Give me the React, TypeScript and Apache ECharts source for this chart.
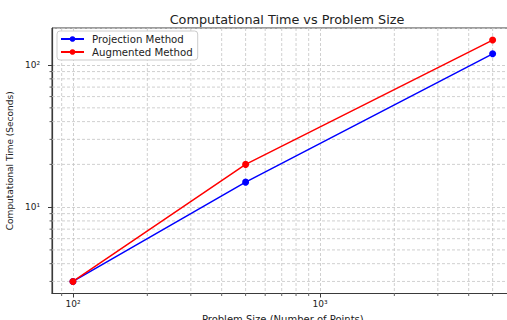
import React, { useEffect, useRef } from 'react';
import * as echarts from 'echarts';

const problemSizes = [100, 500, 5000];
const projectionTimes = [3, 15, 120];
const augmentedTimes = [3, 20, 150];
const xMinorTicks = [90, 200, 300, 400, 500, 600, 700, 800, 900, 2000, 3000, 4000, 5000];
const yMinorTicks = [3, 4, 5, 6, 7, 8, 9, 20, 30, 40, 50, 60, 70, 80, 90];
const xRange = [82.25, 6079];
const yRange = [2.4668, 182.4];
const superscripts: Record<number, string> = { 0: '⁰', 1: '¹', 2: '²', 3: '³', 4: '⁴' };

const FONT = 'DejaVu Sans';
const GRID_COLOR = '#c4c4c4';
const AXIS_COLOR = '#3a3a3a';

function powerLabel(v: number): string {
  const l = Math.log10(v);
  const e = Math.round(l);
  if (Math.abs(l - e) > 1e-6) return '';
  return '10' + (superscripts[e] ?? String(e));
}

export default function App() {
  const ref = useRef<HTMLDivElement>(null);
  useEffect(() => {
    if (!ref.current) return;
    const chart = echarts.init(ref.current, undefined, { renderer: 'svg' });
    const minorData = [
      ...xMinorTicks.map((v) => [v, 10, 0]),
      ...yMinorTicks.map((v) => [100, v, 1]),
    ];
    chart.setOption({
      animation: false,
      backgroundColor: '#fff',
      textStyle: { fontFamily: FONT },
      title: {
        text: 'Computational Time vs Problem Size',
        left: 282,
        textAlign: 'center',
        top: 8,
        textStyle: { fontFamily: FONT, fontSize: 12.8, fontWeight: 'normal', color: '#222' },
      },
      grid: {
        left: 52,
        top: 28,
        bottom: 26.5,
        right: -6.6,
        outerBoundsMode: 'none',
        containLabel: false,
        show: true,
        borderColor: AXIS_COLOR,
        borderWidth: 1,
        backgroundColor: 'transparent',
      },
      legend: {
        left: 57,
        top: 31,
        orient: 'vertical',
        itemWidth: 23,
        itemHeight: 7,
        itemGap: 3,
        data: ['Projection Method', 'Augmented Method'],
        textStyle: { fontFamily: FONT, fontSize: 10.2, color: '#222', padding: [0, 0, 0, 3] },
        backgroundColor: '#fff',
        borderColor: '#cccccc',
        borderWidth: 1,
        borderRadius: 3,
        padding: [3, 5, 3, 3],
      },
      xAxis: {
        type: 'log',
        logBase: 10,
        min: xRange[0],
        max: xRange[1],
        name: 'Problem Size (Number of Points)',
        nameLocation: 'middle',
        nameGap: 21,
        nameTextStyle: { fontFamily: FONT, fontSize: 10, color: '#222' },
        axisLine: { lineStyle: { color: AXIS_COLOR, width: 1.2 } },
        axisTick: { length: 4, lineStyle: { color: AXIS_COLOR, width: 1 } },
        axisLabel: {
          margin: 6,
          fontFamily: FONT,
          fontSize: 9,
          color: '#222',
          formatter: (v: number) => powerLabel(v),
          showMinLabel: false,
          showMaxLabel: false,
        },
        splitLine: { show: true, lineStyle: { color: GRID_COLOR, type: [3, 2], width: 0.8 } },
      },
      yAxis: {
        type: 'log',
        logBase: 10,
        min: yRange[0],
        max: yRange[1],
        name: 'Computational Time (Seconds)',
        nameLocation: 'middle',
        nameGap: 35,
        nameTextStyle: { fontFamily: FONT, fontSize: 9, color: '#222' },
        axisLine: { lineStyle: { color: AXIS_COLOR, width: 1.2 } },
        axisTick: { length: 4, lineStyle: { color: AXIS_COLOR, width: 1 } },
        axisLabel: {
          margin: 12,
          fontFamily: FONT,
          fontSize: 9,
          color: '#222',
          formatter: (v: number) => powerLabel(v),
          showMinLabel: false,
          showMaxLabel: false,
        },
        splitLine: { show: true, lineStyle: { color: GRID_COLOR, type: [3, 2], width: 0.8 } },
      },
      series: [
        {
          type: 'custom',
          name: 'minor',
          silent: true,
          z: 1,
          data: minorData,
          encode: { x: 0, y: 1 },
          renderItem: (params: any, api: any) => {
            const cs = params.coordSys;
            const kind = api.value(2);
            if (kind === 0) {
              const p = api.coord([api.value(0), 10]);
              const x = p[0];
              return {
                type: 'group',
                children: [
                  {
                    type: 'line',
                    shape: { x1: x, y1: cs.y, x2: x, y2: cs.y + cs.height },
                    style: { stroke: GRID_COLOR, lineWidth: 0.8, lineDash: [3, 2] },
                  },
                  {
                    type: 'line',
                    shape: { x1: x, y1: cs.y + cs.height, x2: x, y2: cs.y + cs.height + 2.5 },
                    style: { stroke: AXIS_COLOR, lineWidth: 0.8 },
                  },
                ],
              };
            }
            const p = api.coord([100, api.value(1)]);
            const y = p[1];
            return {
              type: 'group',
              children: [
                {
                  type: 'line',
                  shape: { x1: cs.x, y1: y, x2: cs.x + cs.width, y2: y },
                  style: { stroke: GRID_COLOR, lineWidth: 0.8, lineDash: [3, 2] },
                },
                {
                  type: 'line',
                  shape: { x1: cs.x - 2.5, y1: y, x2: cs.x, y2: y },
                  style: { stroke: AXIS_COLOR, lineWidth: 0.8 },
                },
              ],
            };
          },
        },
        {
          type: 'line',
          name: 'Projection Method',
          z: 3,
          data: problemSizes.map((x, i) => [x, projectionTimes[i]]),
          symbol: 'circle',
          symbolSize: 7,
          color: '#0000ff',
          lineStyle: { color: '#0000ff', width: 1.5 },
          itemStyle: { color: '#0000ff' },
        },
        {
          type: 'line',
          name: 'Augmented Method',
          z: 4,
          data: problemSizes.map((x, i) => [x, augmentedTimes[i]]),
          symbol: 'circle',
          symbolSize: 7,
          color: '#ff0000',
          lineStyle: { color: '#ff0000', width: 1.5 },
          itemStyle: { color: '#ff0000' },
        },
      ],
    });
    return () => chart.dispose();
  }, []);
  return (
    <div
      ref={ref}
      style={{ position: 'fixed', left: 0, top: 0, width: 507, height: 320, background: '#fff' }}
    />
  );
}
